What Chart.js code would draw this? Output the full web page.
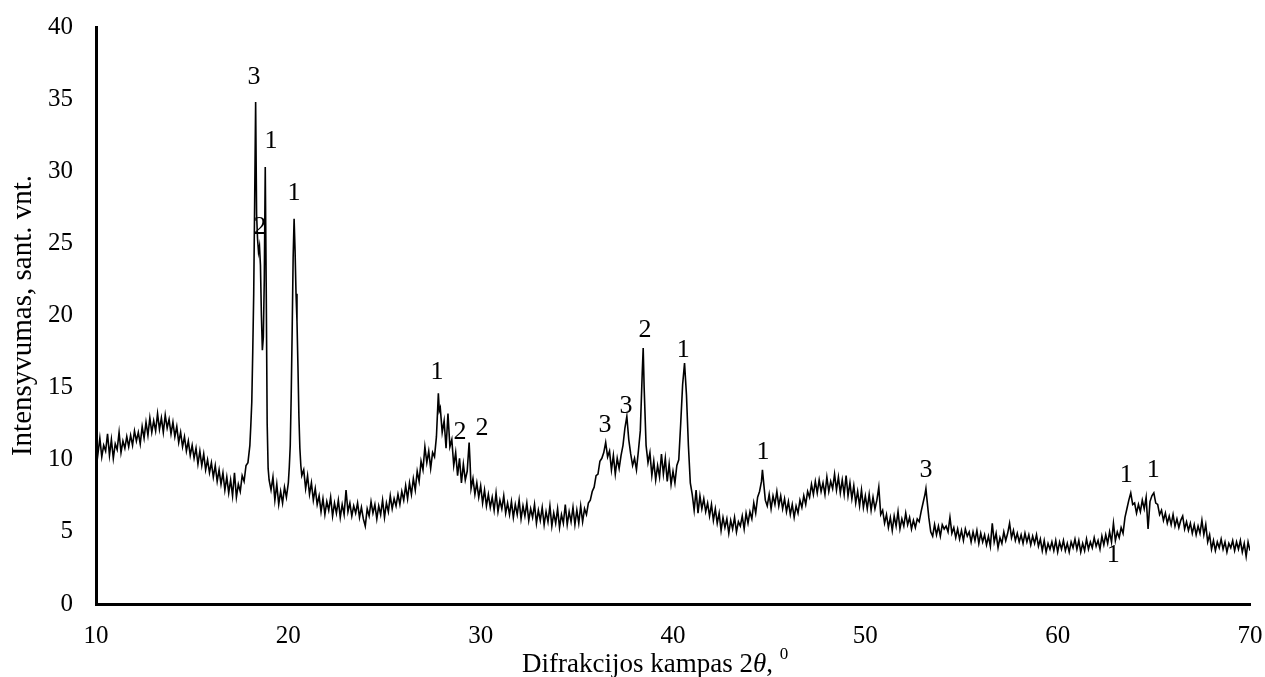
<!DOCTYPE html>
<html>
<head>
<meta charset="utf-8">
<script src="https://cdn.jsdelivr.net/npm/chart.js@4.4.1/dist/chart.umd.min.js"></script>
<style>
html,body{margin:0;padding:0;background:#fff;}
#wrap{width:1265px;height:677px;position:relative;}
</style>
</head>
<body>
<div id="wrap"><canvas id="c" width="1265" height="677"></canvas></div>
<script>
// Diffraction angle 2θ (degrees)
const angle = [
10.0,10.1,10.2,10.3,10.4,10.5,10.6,10.7,10.8,10.9,
11.0,11.1,11.2,11.3,11.4,11.5,11.6,11.7,11.8,11.9,
12.0,12.1,12.2,12.3,12.4,12.5,12.6,12.7,12.8,12.9,
13.0,13.1,13.2,13.3,13.4,13.5,13.6,13.7,13.8,13.9,
14.0,14.1,14.2,14.3,14.4,14.5,14.6,14.7,14.8,14.9,
15.0,15.1,15.2,15.3,15.4,15.5,15.6,15.7,15.8,15.9,
16.0,16.1,16.2,16.3,16.4,16.5,16.6,16.7,16.8,16.9,
17.0,17.1,17.2,17.3,17.4,17.5,17.6,17.7,17.8,17.9,
18.0,18.05,18.1,18.15,18.2,18.25,18.3,18.35,18.4,18.45,
18.5,18.55,18.6,18.65,18.7,18.75,18.8,18.85,18.9,18.95,
19.0,19.1,19.2,19.3,19.4,19.5,19.6,19.7,19.8,19.9,
20.0,20.05,20.1,20.15,20.2,20.25,20.3,20.35,20.4,20.45,
20.5,20.55,20.6,20.65,20.7,20.8,20.9,21.0,21.1,21.2,
21.3,21.4,21.5,21.6,21.7,21.8,21.9,22.0,22.1,22.2,
22.3,22.4,22.5,22.6,22.7,22.8,22.9,23.0,23.1,23.2,
23.3,23.4,23.5,23.6,23.7,23.8,23.9,24.0,24.1,24.2,
24.3,24.4,24.5,24.6,24.7,24.8,24.9,25.0,25.1,25.2,
25.3,25.4,25.5,25.6,25.7,25.8,25.9,26.0,26.1,26.2,
26.3,26.4,26.5,26.6,26.7,26.8,26.9,27.0,27.1,27.2,
27.3,27.4,27.5,27.6,27.7,27.8,27.85,27.9,28.0,28.1,
28.2,28.3,28.4,28.5,28.6,28.7,28.8,28.9,29.0,29.1,
29.2,29.3,29.4,29.45,29.5,29.6,29.7,29.8,29.9,30.0,
30.1,30.2,30.3,30.4,30.5,30.6,30.7,30.8,30.9,31.0,
31.1,31.2,31.3,31.4,31.5,31.6,31.7,31.8,31.9,32.0,
32.1,32.2,32.3,32.4,32.5,32.6,32.7,32.8,32.9,33.0,
33.1,33.2,33.3,33.4,33.5,33.6,33.7,33.8,33.9,34.0,
34.1,34.2,34.3,34.4,34.5,34.6,34.7,34.8,34.9,35.0,
35.1,35.2,35.3,35.4,35.5,35.6,35.7,35.8,35.9,36.0,
36.1,36.2,36.3,36.4,36.5,36.6,36.7,36.8,36.9,37.0,
37.1,37.2,37.3,37.4,37.5,37.6,37.7,37.8,37.9,38.0,
38.1,38.2,38.3,38.4,38.45,38.5,38.6,38.7,38.8,38.9,
39.0,39.1,39.2,39.3,39.4,39.5,39.6,39.7,39.8,39.9,
40.0,40.1,40.2,40.3,40.4,40.5,40.6,40.7,40.8,40.9,
41.0,41.1,41.2,41.3,41.4,41.5,41.6,41.7,41.8,41.9,
42.0,42.1,42.2,42.3,42.4,42.5,42.6,42.7,42.8,42.9,
43.0,43.1,43.2,43.3,43.4,43.5,43.6,43.7,43.8,43.9,
44.0,44.1,44.2,44.3,44.4,44.5,44.6,44.65,44.7,44.8,
44.9,45.0,45.1,45.2,45.3,45.4,45.5,45.6,45.7,45.8,
45.9,46.0,46.1,46.2,46.3,46.4,46.5,46.6,46.7,46.8,
46.9,47.0,47.1,47.2,47.3,47.4,47.5,47.6,47.7,47.8,
47.9,48.0,48.1,48.2,48.3,48.4,48.5,48.6,48.7,48.8,
48.9,49.0,49.1,49.2,49.3,49.4,49.5,49.6,49.7,49.8,
49.9,50.0,50.1,50.2,50.3,50.4,50.5,50.6,50.7,50.8,
50.9,51.0,51.1,51.2,51.3,51.4,51.5,51.6,51.7,51.8,
51.9,52.0,52.1,52.2,52.3,52.4,52.5,52.6,52.7,52.8,
52.9,53.0,53.1,53.15,53.2,53.3,53.4,53.5,53.6,53.7,
53.8,53.9,54.0,54.1,54.2,54.3,54.4,54.5,54.6,54.7,
54.8,54.9,55.0,55.1,55.2,55.3,55.4,55.5,55.6,55.7,
55.8,55.9,56.0,56.1,56.2,56.3,56.4,56.5,56.6,56.7,
56.8,56.9,57.0,57.1,57.2,57.3,57.4,57.5,57.6,57.7,
57.8,57.9,58.0,58.1,58.2,58.3,58.4,58.5,58.6,58.7,
58.8,58.9,59.0,59.1,59.2,59.3,59.4,59.5,59.6,59.7,
59.8,59.9,60.0,60.1,60.2,60.3,60.4,60.5,60.6,60.7,
60.8,60.9,61.0,61.1,61.2,61.3,61.4,61.5,61.6,61.7,
61.8,61.9,62.0,62.1,62.2,62.3,62.4,62.5,62.6,62.7,
62.8,62.9,63.0,63.1,63.2,63.3,63.4,63.5,63.6,63.7,
63.8,63.9,64.0,64.1,64.2,64.3,64.4,64.5,64.6,64.7,
64.8,64.9,65.0,65.1,65.2,65.3,65.4,65.5,65.6,65.7,
65.8,65.9,66.0,66.1,66.2,66.3,66.4,66.5,66.6,66.7,
66.8,66.9,67.0,67.1,67.2,67.3,67.4,67.5,67.6,67.7,
67.8,67.9,68.0,68.1,68.2,68.3,68.4,68.5,68.6,68.7,
68.8,68.9,69.0,69.1,69.2,69.3,69.4,69.5,69.6,69.7,
69.8,69.9,70.0
];

// Intensity (relative units)
const intensity = [
11.2,10.4,11.5,10.2,11.0,10.6,11.8,10.3,11.4,10.1,
11.1,10.7,11.9,10.5,11.3,10.8,11.6,10.9,11.7,11.0,
12.0,11.3,11.9,11.1,12.3,11.5,12.6,11.7,12.9,11.9,
12.7,12.0,13.2,12.1,12.9,11.9,13.1,12.2,12.8,11.8,
12.6,11.6,12.3,11.2,11.9,10.9,11.6,10.6,11.3,10.3,
11.0,10.1,10.8,9.7,10.6,9.6,10.4,9.3,10.0,9.1,
9.8,8.8,9.6,8.5,9.3,8.3,9.1,7.9,8.8,7.7,
8.6,7.5,9.1,7.4,8.3,7.8,8.9,8.5,9.6,9.8,
11.0,12.4,14.0,17.5,21.5,28.0,34.8,27.0,25.3,24.4,
24.8,23.5,20.0,17.6,18.5,22.5,30.3,22.0,12.5,9.4,
8.6,7.9,8.8,7.2,8.3,6.9,7.8,7.0,8.1,7.4,
8.4,9.5,11.0,14.5,19.0,24.0,26.7,24.5,21.5,19.6,
16.5,13.0,10.8,9.6,8.9,9.3,8.0,8.9,7.6,8.4,
7.2,8.0,6.9,7.5,6.4,7.3,6.2,7.1,6.5,7.4,
6.1,7.0,6.3,7.2,6.0,6.9,6.2,7.9,6.4,7.0,
6.1,6.8,6.3,7.0,6.0,6.7,5.9,5.4,6.6,6.1,
7.1,6.3,6.9,5.9,6.8,6.2,7.2,6.0,7.0,6.4,
7.5,6.6,7.3,6.8,7.6,6.9,7.8,7.2,8.2,7.3,
8.4,7.6,8.7,7.9,9.2,8.5,9.9,9.3,10.9,9.8,
10.6,9.4,10.5,10.2,11.6,14.6,13.4,13.6,11.9,12.7,
10.8,13.2,10.9,11.4,9.6,10.5,8.9,10.1,8.4,9.7,
8.6,9.2,11.2,9.8,8.0,8.7,7.6,8.4,7.4,8.2,
7.0,7.9,6.8,7.6,6.7,7.4,6.5,7.7,6.4,7.2,
6.6,7.5,6.3,7.0,6.2,7.1,6.0,6.9,6.2,7.2,
5.9,6.8,6.1,7.0,5.8,6.6,6.0,6.9,5.6,6.5,
5.8,6.7,5.5,6.4,5.7,6.8,5.4,6.3,5.6,6.6,
5.3,6.2,5.6,6.9,5.5,6.4,5.7,6.7,5.5,6.5,
5.6,6.8,5.7,6.6,6.2,7.0,7.2,7.8,8.1,8.9,
9.0,9.9,10.1,10.5,11.2,10.2,10.6,9.3,10.3,9.0,
10.1,9.4,10.3,11.0,12.2,13.0,11.4,10.4,9.6,10.1,
9.3,10.6,12.0,16.0,17.75,15.0,11.0,9.8,10.5,8.9,
9.9,8.6,9.6,8.8,10.4,9.0,10.1,8.5,9.7,8.3,
9.2,8.4,9.6,10.0,12.5,15.2,16.7,14.5,11.0,8.4,
7.6,6.5,7.9,6.3,7.5,6.6,7.3,6.4,7.0,6.1,
6.9,5.8,6.6,5.6,6.3,5.1,6.0,5.3,5.9,4.9,
5.8,5.2,6.0,5.0,5.7,5.4,6.1,5.2,6.3,5.6,
6.4,5.9,7.0,6.3,7.4,7.8,8.5,9.3,8.6,7.2,
6.8,7.6,6.6,7.5,6.9,7.8,6.8,7.5,6.6,7.3,
6.4,7.1,6.2,6.9,6.0,6.8,6.3,7.2,6.7,7.5,
6.9,7.8,7.4,8.3,7.6,8.5,7.7,8.6,7.8,8.4,
7.6,8.8,7.8,8.5,8.0,9.0,7.9,8.8,7.7,8.6,
7.6,8.9,7.5,8.4,7.3,8.2,7.0,7.8,6.8,7.9,
6.7,7.5,6.6,7.6,6.5,7.4,6.6,7.2,8.1,6.2,
6.5,5.6,6.2,5.3,6.0,5.1,6.1,5.4,6.4,5.2,
5.9,5.4,6.3,5.5,6.0,5.2,5.8,5.3,5.9,5.7,
6.4,7.0,7.6,8.0,7.3,6.0,5.0,4.7,5.5,4.8,
5.4,4.7,5.5,5.2,5.4,5.0,6.0,4.9,5.3,4.6,
5.2,4.5,5.1,4.4,5.2,4.7,5.0,4.3,5.0,4.4,
5.1,4.2,4.9,4.3,4.8,4.1,4.7,4.0,5.6,4.3,
4.9,3.9,4.6,4.2,5.0,4.4,4.9,5.6,4.6,5.1,
4.4,4.9,4.3,4.8,4.2,4.9,4.3,4.8,4.1,4.7,
4.2,4.8,4.0,4.5,3.7,4.4,3.6,4.2,3.8,4.3,
3.7,4.4,3.6,4.3,3.8,4.4,3.7,4.2,3.6,4.3,
3.9,4.5,3.8,4.4,3.6,4.2,3.7,4.5,3.8,4.3,
3.9,4.6,4.0,4.4,3.8,4.7,4.1,4.8,4.2,5.0,
4.3,5.6,4.4,5.0,4.6,5.3,4.9,6.0,6.6,7.2,
7.7,6.9,7.0,6.3,6.9,6.4,7.2,6.6,7.4,5.2,
7.1,7.5,7.7,7.0,6.9,6.2,6.5,5.8,6.3,5.6,
6.1,5.5,6.2,5.4,5.9,5.3,5.8,6.1,5.2,5.7,
5.1,5.6,4.9,5.5,4.8,5.4,4.9,5.8,4.8,5.5,
4.3,4.8,3.8,4.4,3.7,4.3,3.9,4.5,3.8,4.3,
3.6,4.2,3.9,4.4,3.7,4.3,3.8,4.4,3.6,4.2,
3.3,4.3,3.7
];

// Phase labels placed above the peaks
const peakText  = ["3","1","2","1","1","2","2","3","3","2","1","1","3","1","1","1"];
const peakAngle = [18.22,19.10,18.53,20.30,27.73,28.93,30.07,36.47,37.56,38.55,40.53,44.68,53.16,63.56,64.97,62.89];
const peakLevel = [36.5,32.1,26.1,28.5,16.1,11.9,12.2,12.4,13.7,19.0,17.6,10.5,9.3,8.9,9.3,3.4];

// Axis ticks
const xTickMin = 10, xTickMax = 70, xTickStep = 10;
const yTickMin = 0, yTickMax = 40, yTickStep = 5;

const FONT = "'Liberation Serif','Times New Roman',serif";

const points = angle.map((a, i) => ({ x: a, y: intensity[i] }));

const peakLabelPlugin = {
  id: 'peakLabels',
  afterDatasetsDraw(chart) {
    const { ctx, scales: { x, y } } = chart;
    ctx.save();
    ctx.font = '26px ' + FONT;
    ctx.fillStyle = '#000';
    ctx.textAlign = 'center';
    ctx.textBaseline = 'middle';
    peakText.forEach((t, i) => {
      ctx.fillText(t, x.getPixelForValue(peakAngle[i]), y.getPixelForValue(peakLevel[i]));
    });
    ctx.restore();
  },
  afterDraw(chart) {
    // x-axis title with italic theta and superscript zero
    const { ctx, chartArea } = chart;
    const parts = [
      { t: 'Difrakcijos kampas 2', f: '27px ' + FONT, dy: 0 },
      { t: 'θ', f: 'italic 27px ' + FONT, dy: 0 },
      { t: ', ', f: '27px ' + FONT, dy: 0 },
      { t: '0', f: '17px ' + FONT, dy: -13 }
    ];
    ctx.save();
    ctx.fillStyle = '#000';
    ctx.textBaseline = 'alphabetic';
    ctx.textAlign = 'left';
    parts.forEach(p => { ctx.font = p.f; p.w = ctx.measureText(p.t).width; });
    let xPos = chartArea.left + 426;
    const base = 672;
    parts.forEach(p => { ctx.font = p.f; ctx.fillText(p.t, xPos, base + p.dy); xPos += p.w; });
    ctx.restore();
  }
};

new Chart(document.getElementById('c'), {
  type: 'line',
  data: {
    datasets: [{
      data: points,
      borderColor: '#000',
      borderWidth: 1.6,
      pointRadius: 0,
      tension: 0,
      fill: false
    }]
  },
  options: {
    responsive: false,
    animation: false,
    devicePixelRatio: 1,
    parsing: false,
    layout: { padding: { top: 27, right: 15, left: 0, bottom: 0 } },
    plugins: { legend: { display: false }, tooltip: { enabled: false } },
    scales: {
      x: {
        type: 'linear',
        min: xTickMin, max: xTickMax,
        grid: { display: false, drawTicks: false },
        border: { display: true, color: '#000', width: 3 },
        ticks: { stepSize: xTickStep, color: '#000', padding: 17, maxRotation: 0,
                 font: { family: FONT, size: 25 } },
        afterFit(scale) { scale.height = 73; scale.paddingLeft = 0; scale.paddingRight = 0; }
      },
      y: {
        min: yTickMin, max: yTickMax,
        grid: { display: false, drawTicks: false },
        border: { display: true, color: '#000', width: 3 },
        ticks: { stepSize: yTickStep, color: '#000', padding: 23,
                 font: { family: FONT, size: 25 } },
        title: { display: true, text: 'Intensyvumas, sant. vnt.', color: '#000',
                 font: { family: FONT, size: 29, lineHeight: 1 }, padding: { top: 9, bottom: 0 } },
        afterFit(scale) { scale.width = 96; scale.paddingTop = 0; scale.paddingBottom = 0; }
      }
    }
  },
  plugins: [peakLabelPlugin]
});
</script>
</body>
</html>
